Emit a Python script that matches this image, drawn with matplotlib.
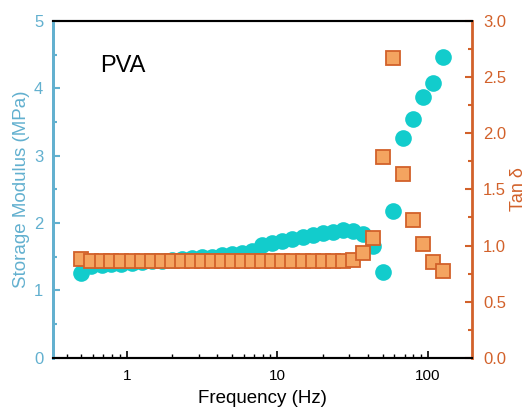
import numpy as np
import matplotlib
matplotlib.use("Agg")
import matplotlib.pyplot as plt
from matplotlib.ticker import FixedLocator, MultipleLocator, LogLocator, NullFormatter, FormatStrFormatter

plt.rcParams['font.family'] = ['Liberation Sans', 'DejaVu Sans']

freq = [0.5, 0.58, 0.68, 0.79, 0.92, 1.08, 1.26, 1.47, 1.71, 2.0, 2.33, 2.72,
        3.17, 3.69, 4.31, 5.02, 5.86, 6.83, 7.96, 9.28, 10.8, 12.6, 14.7, 17.2,
        20.0, 23.3, 27.2, 31.7, 37.0, 43.1, 50.3, 58.6, 68.3, 79.6, 92.8, 108, 126]
storage = [1.26, 1.36, 1.38, 1.39, 1.40, 1.41, 1.42, 1.43, 1.44, 1.45, 1.46, 1.48,
           1.49, 1.50, 1.52, 1.54, 1.56, 1.59, 1.67, 1.70, 1.73, 1.76, 1.79, 1.82,
           1.85, 1.87, 1.89, 1.88, 1.84, 1.66, 1.28, 2.18, 3.26, 3.55, 3.87, 4.08, 4.46]
tan_delta = [0.88, 0.86, 0.86, 0.86, 0.86, 0.86, 0.86, 0.86, 0.86, 0.86, 0.86, 0.86,
             0.86, 0.86, 0.86, 0.86, 0.86, 0.86, 0.86, 0.86, 0.86, 0.86, 0.86, 0.86,
             0.86, 0.86, 0.86, 0.87, 0.93, 1.07, 1.79, 2.67, 1.64, 1.23, 1.015, 0.855, 0.77]

blue = '#62b0cf'
orange = '#d2612a'

fig = plt.figure(figsize=(5.29, 4.09), dpi=100)
ax = fig.add_axes([0.100, 0.125, 0.792, 0.824])
ax2 = ax.twinx()

ax.plot(freq, storage, 'o', color='#12cccc', markersize=12, markeredgewidth=0)
ax2.plot(freq, tan_delta, 's', markerfacecolor='#f4a460', markeredgecolor=orange,
         markersize=10, markeredgewidth=1.3)

ax.set_xscale('log')
ax.set_xlim(0.323, 196)
ax.set_ylim(0, 5)
ax2.set_ylim(0, 3)

ax.xaxis.set_major_locator(FixedLocator([1, 10, 100]))
ax.set_xticklabels(['1', '10', '100'])
ax.xaxis.set_minor_locator(LogLocator(base=10, subs=np.arange(2, 10)))
ax.xaxis.set_minor_formatter(NullFormatter())
ax.yaxis.set_major_locator(MultipleLocator(1))
ax.yaxis.set_minor_locator(MultipleLocator(0.5))
ax2.yaxis.set_major_locator(MultipleLocator(0.5))
ax2.yaxis.set_minor_locator(MultipleLocator(0.25))
ax2.yaxis.set_major_formatter(FormatStrFormatter('%.1f'))

ax.tick_params(axis='x', which='both', direction='in', top=False, labelsize=11, colors='black', pad=8)
ax.tick_params(axis='x', which='major', length=5, width=1.2)
ax.tick_params(axis='x', which='minor', length=3, width=1)
ax.tick_params(axis='y', which='both', direction='in', colors=blue, labelsize=12, width=1.5, pad=7)
ax.tick_params(axis='y', which='major', length=5)
ax.tick_params(axis='y', which='minor', length=3)
ax2.tick_params(axis='y', which='both', direction='in', colors=orange, labelsize=12, width=1.5, pad=8)
ax2.tick_params(axis='y', which='major', length=5)
ax2.tick_params(axis='y', which='minor', length=3)

for a in (ax, ax2):
    a.spines['top'].set_color('black')
    a.spines['bottom'].set_color('black')
    a.spines['top'].set_linewidth(1.5)
    a.spines['bottom'].set_linewidth(1.5)
ax2.spines['left'].set_color(blue)
ax2.spines['left'].set_linewidth(2)
ax2.spines['right'].set_color(orange)
ax2.spines['right'].set_linewidth(2)
ax.spines['left'].set_color(blue)
ax.spines['left'].set_linewidth(2)
ax.spines['right'].set_visible(False)

ax.set_xlabel('Frequency (Hz)', fontsize=13.5, labelpad=5)
ax.set_ylabel('Storage Modulus (MPa)', fontsize=13.5, color=blue, labelpad=3)
ax2.set_ylabel('Tan δ', fontsize=13, color=orange, labelpad=3)

ax.text(0.113, 0.865, 'PVA', transform=ax.transAxes, fontsize=17, va='center')

fig.savefig('out.png', dpi=100)
